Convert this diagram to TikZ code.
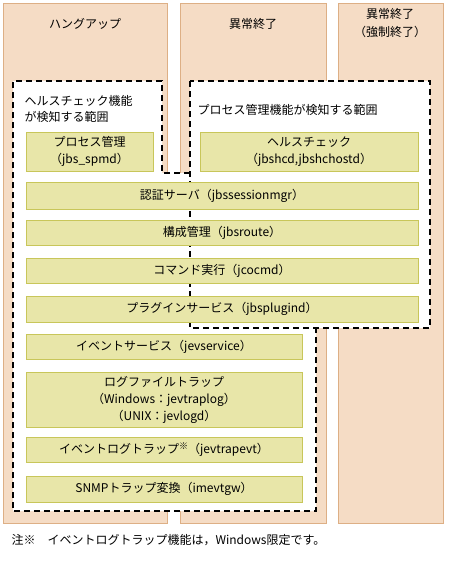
\documentclass[tikz,border=0pt]{standalone}
\usepackage{fontspec}
\setmainfont{Noto Sans CJK JP}
\usetikzlibrary{positioning}
\definecolor{Peach}{HTML}{F5DCC5}
\definecolor{PeachLine}{HTML}{DDAF85}
\definecolor{Khaki}{HTML}{E8E6A9}
\definecolor{KhakiLine}{HTML}{C8C65A}
\tikzset{
    lane/.style={draw=PeachLine, fill=Peach, line width=0.8pt},
    procbox/.style={rectangle, draw=KhakiLine, fill=Khaki, line width=0.9pt, anchor=north west, inner sep=0pt, outer sep=0pt, align=center, font=\fontsize{12}{17}\selectfont},
    rangeline/.style={draw=black, line width=1.1pt, dash pattern=on 6pt off 4pt},
    headtext/.style={align=center, font=\fontsize{12}{18}\selectfont},
    rangetext/.style={align=left, anchor=west, font=\fontsize{12}{16}\selectfont},
}

\begin{document}
\begin{tikzpicture}[x=1pt, y=-1pt]
    \useasboundingbox (0,0) rectangle (466,562);

    % Spalten
    \draw[lane] (3,3) rectangle (167,523);
    \draw[lane] (180,3) rectangle (326,523);
    \draw[lane] (338,3) rectangle (443,523);
    \node[headtext] (hang) at (85,24) {ハングアップ};
    \node[headtext] (abend) at (253,24) {異常終了};
    \node[headtext] (kill) at (390,23) {異常終了\\（強制終了）};

    % Bereiche
    \fill[white] (13,81) -- (162,81) -- (162,173) -- (190,173) -- (190,328) -- (316,328) -- (316,511) -- (13,511) -- cycle;
    \fill[white] (190,81) rectangle (430,328);
    \draw[rangeline] (190,173) -- (162,173) -- (162,81) -- (13,81) -- (13,511) -- (316,511) -- (316,328);
    \draw[rangeline] (190,81) rectangle (430,328);
    \node[rangetext] (hcrange) at (21,109) {ヘルスチェック機能\\が検知する範囲};
    \node[rangetext] (pmrange) at (194,110) {プロセス管理機能が検知する範囲};

    % Prozesse
    \node[procbox, minimum width=127pt, minimum height=39pt] (spmd) at (26,132) {プロセス管理\\（jbs\_spmd）};
    \node[procbox, minimum width=218pt, minimum height=39pt] (hcd) at (200,132) {ヘルスチェック\\（jbshcd,jbshchostd）};
    \node[procbox, minimum width=392pt, minimum height=27pt] (sess) at (26,182) {認証サーバ（jbssessionmgr）};
    \node[procbox, minimum width=392pt, minimum height=25pt] (route) at (26,220) {構成管理（jbsroute）};
    \node[procbox, minimum width=392pt, minimum height=25pt] (cmd) at (26,258) {コマンド実行（jcocmd）};
    \node[procbox, minimum width=392pt, minimum height=26pt] (plugin) at (26,296) {プラグインサービス（jbsplugind）};
    \node[procbox, minimum width=276pt, minimum height=25pt] (evs) at (26,334) {イベントサービス（jevservice）};
    \node[procbox, minimum width=276pt, minimum height=55pt] (logtrap) at (26,372) {ログファイルトラップ\\（Windows：jevtraplog）\\（UNIX：jevlogd）};
    \node[procbox, minimum width=276pt, minimum height=25pt] (evtrap) at (26,437) {イベントログトラップ\raisebox{0.35em}{\fontsize{9}{9}\selectfont ※}（jevtrapevt）};
    \node[procbox, minimum width=276pt, minimum height=26pt] (snmp) at (26,476) {SNMPトラップ変換（imevtgw）};

    % Anmerkung
    \node[anchor=west, font=\fontsize{12}{14}\selectfont] (note) at (8,540) {注※\quad イベントログトラップ機能は，Windows限定です。};
\end{tikzpicture}
\end{document}
